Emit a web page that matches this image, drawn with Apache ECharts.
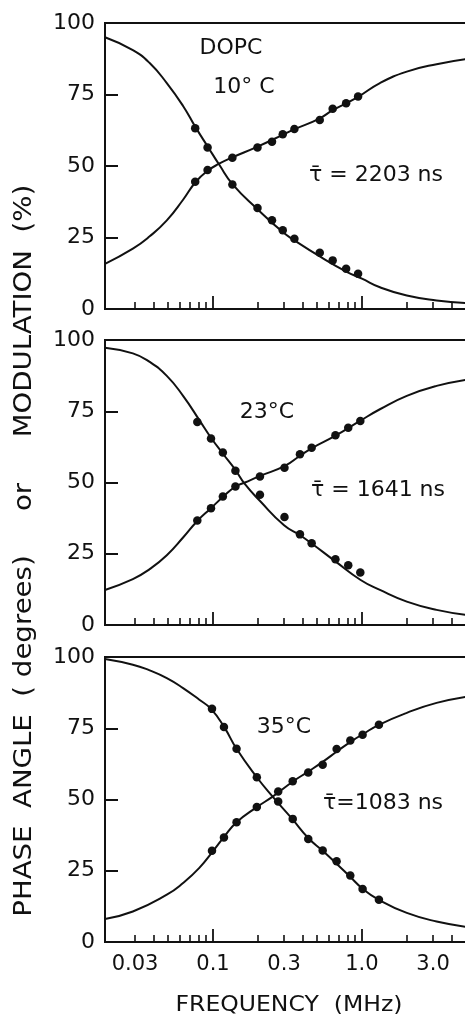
<!DOCTYPE html>
<html>
<head>
<meta charset="utf-8">
<script src="https://cdn.jsdelivr.net/npm/echarts@6/dist/echarts.min.js"></script>
<style>
  html, body { margin: 0; padding: 0; background: #ffffff; }
  #chart { width: 465px; height: 1020px; }
</style>
</head>
<body>
<div id="chart"></div>
<script>
// ---- Frequency axis (MHz, logarithmic) ----
const FREQ_MIN = 0.01885;
const FREQ_MAX = 5.23;
const FREQ_LABEL_VALUES = [0.03, 0.1, 0.3, 1, 3];
const FREQ_LABELS = ['0.03', '0.1', '0.3', '1.0', '3.0'];
const FREQ_MINOR_TICKS = [0.03, 0.04, 0.05, 0.06, 0.07, 0.08, 0.09,
                          0.2, 0.3, 0.4, 0.5, 0.6, 0.7, 0.8, 0.9,
                          2, 3, 4];
const FREQ_MAJOR_TICKS = [0.1, 1];

// ---- DOPC, 10 °C ----
const t10Freq  = [0.076, 0.092, 0.135, 0.199, 0.249, 0.294, 0.352, 0.521, 0.636, 0.783, 0.942];
const t10Phase = [44.5, 48.6, 52.9, 56.5, 58.5, 61.1, 62.9, 66.1, 70.0, 71.9, 74.3];
const t10Mod   = [63.2, 56.5, 43.5, 35.3, 31.0, 27.5, 24.6, 19.7, 17.0, 14.1, 12.3];
const t10PhaseFitFreq = [0.01885, 0.029, 0.0376, 0.049, 0.063, 0.0765, 0.092, 0.11, 0.1335, 0.196, 0.294, 0.35, 0.514, 0.636, 0.93, 1.32, 2.0, 3.17, 5.23];
const t10PhaseFit     = [15.8, 21.1, 25.4, 31.0, 38.2, 44.4, 48.3, 50.8, 52.9, 56.6, 60.9, 62.8, 66.5, 69.5, 74.0, 79.0, 83.0, 85.6, 87.5];
const t10ModFitFreq = [0.01885, 0.029, 0.0376, 0.049, 0.063, 0.0765, 0.093, 0.11, 0.136, 0.2, 0.294, 0.352, 0.528, 0.79, 1.0, 1.32, 2.0, 3.17, 5.23];
const t10ModFit     = [95.0, 90.5, 86.0, 79.0, 71.0, 63.5, 56.5, 50.5, 43.5, 34.8, 26.9, 24.0, 18.2, 13.0, 10.6, 7.6, 4.7, 3.0, 2.0];

// ---- 23 °C ----
const t23Freq  = [0.0785, 0.097, 0.1165, 0.1415, 0.2067, 0.302, 0.3836, 0.4596, 0.664, 0.809, 0.975];
const t23Phase = [36.7, 41.0, 45.1, 48.6, 52.1, 55.2, 59.9, 62.2, 66.6, 69.2, 71.6];
const t23Mod   = [71.2, 65.4, 60.5, 54.1, 45.7, 37.9, 31.8, 28.7, 23.1, 21.0, 18.4];
const t23PhaseFitFreq = [0.01885, 0.029, 0.0376, 0.049, 0.063, 0.0785, 0.097, 0.117, 0.141, 0.164, 0.207, 0.304, 0.384, 0.46, 0.669, 0.97, 1.32, 2.0, 3.17, 5.23];
const t23PhaseFit     = [12.3, 16.1, 19.6, 24.5, 30.7, 36.5, 41.0, 45.0, 48.5, 50.0, 52.3, 55.8, 59.4, 62.0, 66.5, 71.6, 75.7, 80.4, 83.9, 86.2];
const t23ModFitFreq = [0.01885, 0.029, 0.0376, 0.049, 0.063, 0.081, 0.097, 0.117, 0.141, 0.164, 0.207, 0.3, 0.384, 0.46, 0.66, 0.98, 1.32, 2.0, 3.17, 5.23];
const t23ModFit     = [97.3, 95.3, 92.3, 87.4, 80.4, 71.9, 65.7, 60.0, 54.5, 49.4, 43.5, 35.0, 31.5, 28.6, 22.4, 15.8, 12.3, 8.2, 5.3, 3.4];

// ---- 35 °C ----
const t35Freq  = [0.0985, 0.1185, 0.144, 0.197, 0.274, 0.343, 0.436, 0.545, 0.676, 0.835, 1.01, 1.30];
const t35Phase = [32.0, 36.7, 42.0, 47.4, 52.8, 56.4, 59.5, 62.2, 67.7, 70.7, 72.7, 76.2];
const t35Mod   = [81.8, 75.4, 67.8, 57.8, 49.3, 43.2, 36.1, 32.1, 28.3, 23.3, 18.6, 14.8];
const t35PhaseFitFreq = [0.01885, 0.029, 0.049, 0.063, 0.081, 0.1005, 0.118, 0.144, 0.198, 0.2515, 0.346, 0.436, 0.545, 0.693, 0.853, 1.02, 1.30, 2.0, 3.17, 5.23];
const t35PhaseFit     = [8.1, 10.7, 16.6, 20.7, 26.0, 32.0, 36.7, 42.0, 47.4, 51.0, 56.4, 59.8, 63.2, 67.2, 70.5, 73.0, 76.2, 80.4, 83.9, 86.2];
const t35ModFitFreq = [0.01885, 0.029, 0.0376, 0.049, 0.063, 0.081, 0.097, 0.119, 0.144, 0.197, 0.2515, 0.34, 0.436, 0.545, 0.659, 0.818, 1.005, 1.30, 2.0, 3.17, 5.23];
const t35ModFit     = [99.3, 97.3, 95.3, 92.6, 89.1, 85.0, 81.8, 75.4, 67.8, 57.8, 51.0, 43.2, 36.5, 32.0, 28.0, 23.3, 18.8, 14.8, 10.2, 7.2, 5.2];

// ---- Panel texts ----
const PANEL_TITLES = ['10° C', '23°C', '35°C'];
const PANEL_TAUS = ['τ̄ = 2203 ns', 'τ̄ = 1641 ns', 'τ̄=1083 ns'];
const SAMPLE_NAME = 'DOPC';

const panels = [
  { freq: t10Freq, phase: t10Phase, mod: t10Mod,
    phaseFit: [t10PhaseFitFreq, t10PhaseFit], modFit: [t10ModFitFreq, t10ModFit] },
  { freq: t23Freq, phase: t23Phase, mod: t23Mod,
    phaseFit: [t23PhaseFitFreq, t23PhaseFit], modFit: [t23ModFitFreq, t23ModFit] },
  { freq: t35Freq, phase: t35Phase, mod: t35Mod,
    phaseFit: [t35PhaseFitFreq, t35PhaseFit], modFit: [t35ModFitFreq, t35ModFit] }
];

const INK = '#111111';
const FONT = 'DejaVu Sans';
const gridBoxes = [
  { top: 23, height: 286 },
  { top: 340, height: 285 },
  { top: 657, height: 285 }
];

const zip = (xs, ys) => xs.map((x, i) => [x, ys[i]]);

const grids = [], xAxes = [], yAxes = [], series = [];
gridBoxes.forEach((box, i) => {
  grids.push({
    left: 105, right: -4, top: box.top, height: box.height,
    show: true, borderColor: INK, borderWidth: 2, backgroundColor: 'transparent',
    outerBoundsMode: 'none'
  });
  // minor ticks axis (carries the data)
  xAxes.push({
    type: 'log', logBase: 10, gridIndex: i, position: 'bottom', offset: 0,
    min: FREQ_MIN, max: FREQ_MAX,
    axisLine: { show: false },
    axisTick: { show: true, inside: true, length: 7, customValues: FREQ_MINOR_TICKS,
                lineStyle: { color: INK, width: 1.6 } },
    axisLabel: { show: false },
    splitLine: { show: false }, minorTick: { show: false }
  });
  // decade ticks + labels
  xAxes.push({
    type: 'log', logBase: 10, gridIndex: i, position: 'bottom', offset: 0,
    min: FREQ_MIN, max: FREQ_MAX,
    axisLine: { show: false },
    axisTick: { show: true, inside: true, length: 13, customValues: FREQ_MAJOR_TICKS,
                lineStyle: { color: INK, width: 1.8 } },
    axisLabel: {
      show: i === 2, customValues: FREQ_LABEL_VALUES, margin: 12,
      color: INK, fontFamily: FONT, fontSize: 21,
      formatter: v => {
        const k = FREQ_LABEL_VALUES.findIndex(t => Math.abs(t - v) < 1e-6 * Math.max(1, t));
        return k >= 0 ? FREQ_LABELS[k] : '';
      }
    },
    splitLine: { show: false }
  });
  yAxes.push({
    type: 'value', gridIndex: i, min: 0, max: 100, interval: 25,
    axisLine: { show: false },
    axisTick: { show: true, inside: true, length: 13, lineStyle: { color: INK, width: 2 } },
    axisLabel: { color: INK, fontFamily: FONT, fontSize: 22, margin: 10 },
    splitLine: { show: false }
  });

  const p = panels[i];
  const lineStyle = { color: INK, width: 2 };
  series.push({
    type: 'line', xAxisIndex: 2 * i, yAxisIndex: i, data: zip(p.phaseFit[0], p.phaseFit[1]),
    showSymbol: false, smooth: 0.5, lineStyle, silent: true, z: 2
  });
  series.push({
    type: 'line', xAxisIndex: 2 * i, yAxisIndex: i, data: zip(p.modFit[0], p.modFit[1]),
    showSymbol: false, smooth: 0.5, lineStyle, silent: true, z: 2
  });
  series.push({
    type: 'scatter', xAxisIndex: 2 * i, yAxisIndex: i, data: zip(p.freq, p.phase),
    symbol: 'circle', symbolSize: 8.5, itemStyle: { color: INK, opacity: 1 }, z: 3
  });
  series.push({
    type: 'scatter', xAxisIndex: 2 * i, yAxisIndex: i, data: zip(p.freq, p.mod),
    symbol: 'circle', symbolSize: 8.5, itemStyle: { color: INK, opacity: 1 }, z: 3
  });
});

const txt = (x, y, text, size, extra) => Object.assign({
  type: 'text', x, y, z: 10,
  style: { text, fill: INK, font: `${size}px "${FONT}"`, align: 'center', verticalAlign: 'middle' }
}, extra || {});

const vertical = { rotation: Math.PI / 2, scaleX: 1.15 };
const graphic = [
  txt(231, 48, SAMPLE_NAME, 22),
  txt(244, 87, PANEL_TITLES[0], 22),
  txt(376, 175, PANEL_TAUS[0], 22),
  txt(267, 412, PANEL_TITLES[1], 22),
  txt(378, 490, PANEL_TAUS[1], 22),
  txt(284, 727, PANEL_TITLES[2], 22),
  txt(383, 803, PANEL_TAUS[2], 22),
  txt(289, 1006, 'FREQUENCY  (MHz)', 21, { scaleX: 1.12 }),
  txt(25, 736, 'PHASE  ANGLE  ( degrees)', 24, vertical),
  txt(25, 497, 'or', 24, vertical),
  txt(25, 311, 'MODULATION  (%)', 24, vertical)
];

const chart = echarts.init(document.getElementById('chart'), null, { renderer: 'canvas' });
chart.setOption({
  animation: false,
  backgroundColor: '#ffffff',
  grid: grids,
  xAxis: xAxes,
  yAxis: yAxes,
  series,
  graphic
});
</script>
</body>
</html>
